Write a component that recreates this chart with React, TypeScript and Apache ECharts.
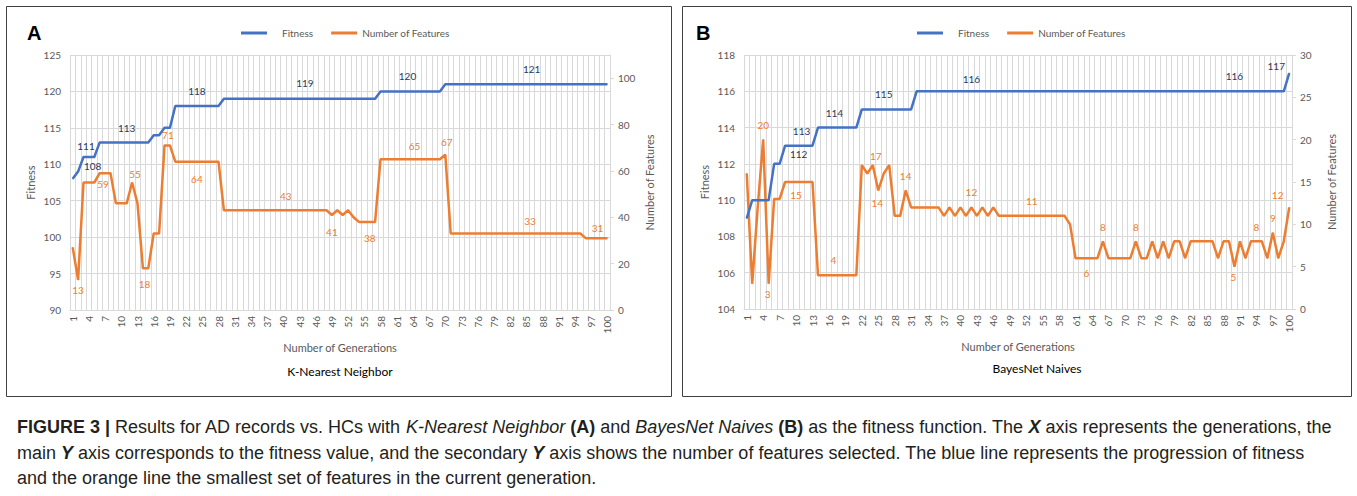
import React, { useEffect, useRef } from "react";
import * as echarts from "echarts";

// ---------- DATA ----------
const generations: string[] = Array.from({ length: 100 }, (_, k) => String(k + 1));

const fitnessA: number[] = [
  108, 109, 111, 111, 111, 113, 113, 113, 113, 113,
  113, 113, 113, 113, 113, 114, 114, 115, 115, 118,
  118, 118, 118, 118, 118, 118, 118, 118, 119, 119,
  119, 119, 119, 119, 119, 119, 119, 119, 119, 119,
  119, 119, 119, 119, 119, 119, 119, 119, 119, 119,
  119, 119, 119, 119, 119, 119, 119, 120, 120, 120,
  120, 120, 120, 120, 120, 120, 120, 120, 120, 121,
  121, 121, 121, 121, 121, 121, 121, 121, 121, 121,
  121, 121, 121, 121, 121, 121, 121, 121, 121, 121,
  121, 121, 121, 121, 121, 121, 121, 121, 121, 121,
];

const featuresA: number[] = [
  27, 13, 55, 55, 55, 59, 59, 59, 46, 46,
  46, 55, 46, 18, 18, 33, 33, 71, 71, 64,
  64, 64, 64, 64, 64, 64, 64, 64, 43, 43,
  43, 43, 43, 43, 43, 43, 43, 43, 43, 43,
  43, 43, 43, 43, 43, 43, 43, 43, 41, 43,
  41, 43, 40, 38, 38, 38, 38, 65, 65, 65,
  65, 65, 65, 65, 65, 65, 65, 65, 65, 67,
  33, 33, 33, 33, 33, 33, 33, 33, 33, 33,
  33, 33, 33, 33, 33, 33, 33, 33, 33, 33,
  33, 33, 33, 33, 33, 31, 31, 31, 31, 31,
];

const fitnessB: number[] = [
  109, 110, 110, 110, 110, 112, 112, 113, 113, 113,
  113, 113, 113, 114, 114, 114, 114, 114, 114, 114,
  114, 115, 115, 115, 115, 115, 115, 115, 115, 115,
  115, 116, 116, 116, 116, 116, 116, 116, 116, 116,
  116, 116, 116, 116, 116, 116, 116, 116, 116, 116,
  116, 116, 116, 116, 116, 116, 116, 116, 116, 116,
  116, 116, 116, 116, 116, 116, 116, 116, 116, 116,
  116, 116, 116, 116, 116, 116, 116, 116, 116, 116,
  116, 116, 116, 116, 116, 116, 116, 116, 116, 116,
  116, 116, 116, 116, 116, 116, 116, 116, 116, 117,
];

const featuresB: number[] = [
  16, 3, 12, 20, 3, 13, 13, 15, 15, 15,
  15, 15, 15, 4, 4, 4, 4, 4, 4, 4,
  4, 17, 16, 17, 14, 16, 17, 11, 11, 14,
  12, 12, 12, 12, 12, 12, 11, 12, 11, 12,
  11, 12, 11, 12, 11, 12, 11, 11, 11, 11,
  11, 11, 11, 11, 11, 11, 11, 11, 11, 10,
  6, 6, 6, 6, 6, 8, 6, 6, 6, 6,
  6, 8, 6, 6, 8, 6, 8, 6, 8, 8,
  6, 8, 8, 8, 8, 8, 6, 8, 8, 5,
  8, 6, 8, 8, 8, 6, 9, 6, 8, 12,
];

// generations (1-based) whose value is annotated
const labeledFitnessA: number[] = [1, 3, 11, 24, 44, 63, 86];
const labeledFeaturesA: number[] = [2, 7, 12, 14, 19, 24, 40, 49, 56, 63, 70, 86, 98];
const labeledFitnessB: number[] = [7, 11, 17, 26, 42, 90, 100];
const labeledFeaturesB: number[] = [4, 5, 10, 17, 24, 25, 30, 42, 53, 63, 66, 72, 90, 94, 97, 100];

// ---------- STYLE ----------
const FONT = "Lato, 'Liberation Sans', sans-serif";
const CAP_FONT = "'Liberation Sans', Arial, sans-serif";
const BLUE = "#4472C4";
const ORANGE = "#ED7D31";
const NAVY = "#1F3864";
const GRID = "#D9D9D9";
const AXIS_TXT = "#595959";

// label offsets (px) relative to the annotated point, same order as the labeled arrays
const OFF_FIT_A: number[][] = [[20, -13], [2.5, -11], [0, -14], [0, -15], [0, -15.5], [0, -15], [0, -15]];
const OFF_FEAT_A: number[][] = [[0, 10], [-2, 11], [3, -9], [1.7, 15.7], [-2, -10], [0, 17], [2.4, -14], [0, 17], [0, 16.5], [7, -13], [1.4, -13], [-1.7, -12.5], [1, -10.5]];
const OFF_FIT_B: number[][] = [[19, -10], [0, -15], [0, -15], [0, -15.5], [0, -12], [0, -15], [-13, -7.5]];
const OFF_FEAT_B: number[][] = [[0, -15], [-1, 10], [0, 13], [-1, -15], [3, -9], [-1, 13], [0, -14.6], [0, -15], [0, -14.5], [0, 15], [0, -14], [0, -14], [-1, 10], [0, -14], [0, -14.5], [-11.6, -12.6]];

function withLabels(values: number[], labeled: number[], offsets: number[][]) {
  return values.map((v, k) => {
    const idx = labeled.indexOf(k + 1);
    if (idx < 0) return v;
    return { value: v, label: { show: true, offset: offsets[idx] } };
  });
}

function xAxis(gridIndex: number) {
  return {
    type: "category",
    gridIndex,
    data: generations,
    boundaryGap: true,
    axisLine: { show: true, lineStyle: { color: GRID, width: 1 } },
    axisTick: { show: false },
    axisLabel: { interval: 2, rotate: 90, color: AXIS_TXT, fontSize: 10, margin: 6, fontFamily: FONT },
    splitLine: { show: true, interval: 0, lineStyle: { color: GRID, width: 1 } },
    name: "Number of Generations",
    nameLocation: "middle",
    nameGap: 32,
    nameTextStyle: { color: AXIS_TXT, fontSize: 11, fontFamily: FONT },
  };
}

function leftAxis(gridIndex: number, min: number, max: number, interval: number) {
  return {
    type: "value",
    gridIndex,
    position: "left",
    min,
    max,
    interval,
    axisLine: { show: false },
    axisTick: { show: false },
    axisLabel: { color: AXIS_TXT, fontSize: 10, margin: 9, fontFamily: FONT },
    splitLine: { show: true, lineStyle: { color: GRID, width: 1 } },
    name: "Fitness",
    nameLocation: "middle",
    nameGap: 34,
    nameTextStyle: { color: AXIS_TXT, fontSize: 11, fontFamily: FONT },
  };
}

function rightAxis(gridIndex: number, min: number, max: number, interval: number) {
  return {
    type: "value",
    gridIndex,
    position: "right",
    min,
    max,
    interval,
    axisLine: { show: true, lineStyle: { color: GRID, width: 1 } },
    axisTick: { show: true, length: 4, lineStyle: { color: GRID } },
    axisLabel: { color: AXIS_TXT, fontSize: 10, margin: 8, fontFamily: FONT, showMaxLabel: max % interval === 0 },
    splitLine: { show: false },
    name: "Number of Features",
    nameLocation: "middle",
    nameGap: 34,
    nameTextStyle: { color: AXIS_TXT, fontSize: 11, fontFamily: FONT },
  };
}

function lineSeries(name: string, xIdx: number, yIdx: number, data: any[], color: string, labelColor: string, z: number) {
  return {
    name,
    type: "line",
    xAxisIndex: xIdx,
    yAxisIndex: yIdx,
    data,
    symbol: "circle",
    symbolSize: 1,
    showSymbol: true,
    showAllSymbol: true,
    z,
    lineStyle: { color, width: 2.5 },
    itemStyle: { color },
    label: { show: false, position: "inside", color: labelColor, fontSize: 10, fontFamily: FONT },
    emphasis: { disabled: true },
  };
}

function legend(left: number) {
  return {
    left,
    top: 23,
    icon: "rect",
    itemWidth: 26,
    itemHeight: 3,
    itemGap: 18,
    selectedMode: false,
    textStyle: { color: AXIS_TXT, fontSize: 10, fontFamily: FONT },
    data: [
      { name: "Fitness", textStyle: { padding: [0, 0, 0, 10] } },
      { name: "Number of Features" },
    ],
  };
}

const capLine1 =
  "{b|FIGURE 3 |} Results for AD records vs. HCs with {i|K-Nearest Neighbor} {b|(A)} and {i|BayesNet Naives} {b|(B)} as the fitness function. The {bi|X} axis represents the generations, the";
const capLine2 =
  "main {bi|Y} axis corresponds to the fitness value, and the secondary {bi|Y} axis shows the number of features selected. The blue line represents the progression of fitness";
const capLine3 = "and the orange line the smallest set of features in the current generation.";

const CAP_SIZE = 18;
const capRich = {
  b: { fontWeight: "bold", fontSize: CAP_SIZE, fontFamily: CAP_FONT, fill: "#231F20" },
  i: { fontStyle: "italic", fontSize: CAP_SIZE, fontFamily: CAP_FONT, fill: "#231F20" },
  bi: { fontStyle: "italic", fontWeight: "bold", fontSize: CAP_SIZE, fontFamily: CAP_FONT, fill: "#231F20" },
};

function capText(text: string, y: number) {
  return {
    type: "text",
    x: 17,
    y,
    style: {
      text,
      fontSize: CAP_SIZE,
      fontFamily: CAP_FONT,
      fill: "#231F20",
      verticalAlign: "middle",
      rich: capRich,
    },
  };
}

export default function App() {
  const ref = useRef<HTMLDivElement>(null);

  useEffect(() => {
    document.body.style.margin = "0";
    const chart = echarts.init(ref.current!, null, { renderer: "svg" });
    const option: any = {
      animation: false,
      backgroundColor: "#ffffff",
      textStyle: { fontFamily: FONT },
      grid: [
        { left: 70, top: 55, width: 540, height: 255 },
        { left: 744, top: 55, width: 548, height: 254 },
      ],
      xAxis: [xAxis(0), xAxis(1)],
      yAxis: [
        leftAxis(0, 90, 125, 5),
        rightAxis(0, 0, 110, 20),
        leftAxis(1, 104, 118, 2),
        rightAxis(1, 0, 30, 5),
      ],
      legend: [legend(236), legend(912)],
      series: [
        lineSeries("Fitness", 0, 0, withLabels(fitnessA, labeledFitnessA, OFF_FIT_A), BLUE, NAVY, 3),
        lineSeries("Number of Features", 0, 1, withLabels(featuresA, labeledFeaturesA, OFF_FEAT_A), ORANGE, ORANGE, 2),
        lineSeries("Fitness", 1, 2, withLabels(fitnessB, labeledFitnessB, OFF_FIT_B), BLUE, NAVY, 3),
        lineSeries("Number of Features", 1, 3, withLabels(featuresB, labeledFeaturesB, OFF_FEAT_B), ORANGE, ORANGE, 2),
      ],
      graphic: [
        { type: "rect", shape: { x: 6.5, y: 6.5, width: 665, height: 390 }, style: { fill: "none", stroke: "#404040", lineWidth: 1 }, silent: true },
        { type: "rect", shape: { x: 682.5, y: 6.5, width: 669, height: 390 }, style: { fill: "none", stroke: "#404040", lineWidth: 1 }, silent: true },
        { type: "text", x: 27, y: 33, style: { text: "A", fontSize: 20, fontWeight: "bold", fontFamily: "'Liberation Sans', Arial, sans-serif", fill: "#000", verticalAlign: "middle" } },
        { type: "text", x: 696, y: 33, style: { text: "B", fontSize: 20, fontWeight: "bold", fontFamily: "'Liberation Sans', Arial, sans-serif", fill: "#000", verticalAlign: "middle" } },
        { type: "text", x: 340, y: 371, style: { text: "K-Nearest Neighbor", fontSize: 12, fontFamily: FONT, fill: "#000", align: "center", verticalAlign: "middle" } },
        { type: "text", x: 1037, y: 368, style: { text: "BayesNet Naives", fontSize: 12, fontFamily: FONT, fill: "#000", align: "center", verticalAlign: "middle" } },
        capText(capLine1, 427),
        capText(capLine2, 453),
        capText(capLine3, 478),
      ],
    };
    chart.setOption(option);
    return () => chart.dispose();
  }, []);

  return <div ref={ref} style={{ width: 1357, height: 496 }} />;
}
